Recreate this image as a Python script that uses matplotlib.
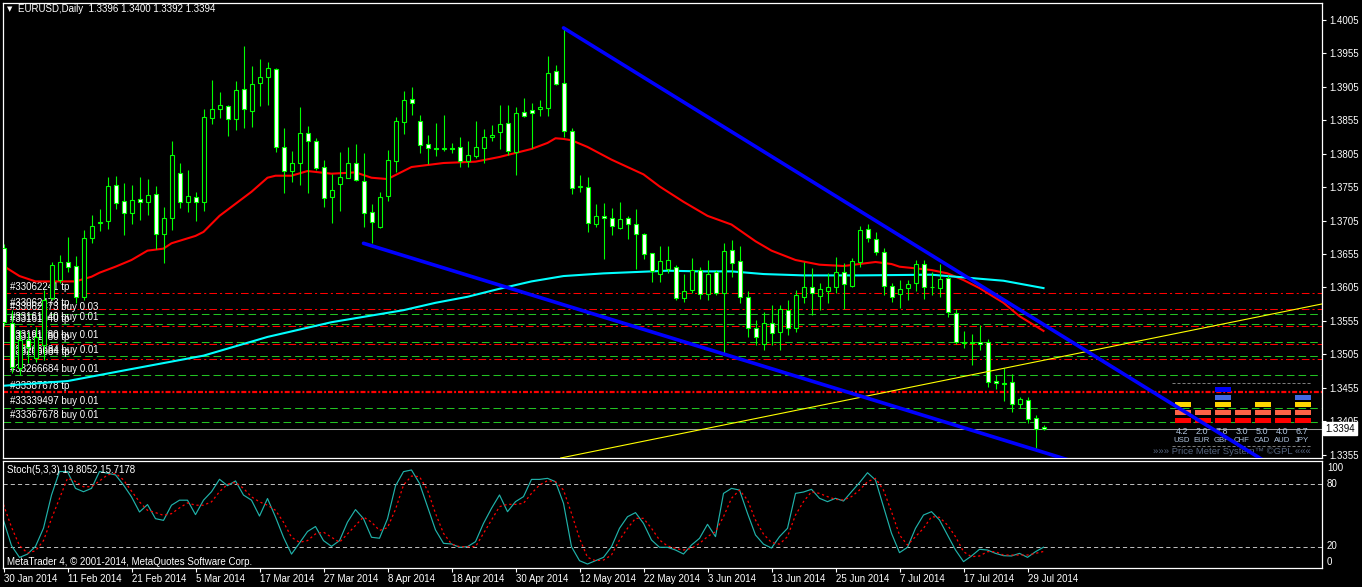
import matplotlib
matplotlib.use("Agg")
import matplotlib.pyplot as plt
import matplotlib.transforms as mtransforms
from matplotlib.patches import Rectangle
import numpy as np

plt.rcParams['font.family'] = ['Liberation Sans', 'DejaVu Sans']
plt.rcParams['lines.scale_dashes'] = False

# ------------------------------------------------------------------ data
title_text = "EURUSD,Daily  1.3396 1.3400 1.3392 1.3394"
stoch_title = "Stoch(5,3,3) 19.8052 15.7178"
footer_text = "MetaTrader 4, \u00a9 2001-2014, MetaQuotes Software Corp."

date_labels = ['30 Jan 2014', '11 Feb 2014', '21 Feb 2014', '5 Mar 2014', '17 Mar 2014',
               '27 Mar 2014', '8 Apr 2014', '18 Apr 2014', '30 Apr 2014', '12 May 2014',
               '22 May 2014', '3 Jun 2014', '13 Jun 2014', '25 Jun 2014', '7 Jul 2014',
               '17 Jul 2014', '29 Jul 2014']

opens = [1.3664, 1.3552, 1.3485, 1.3526, 1.3499, 1.3519, 1.3589, 1.3616, 1.3643, 1.3637,
         1.3591, 1.3679, 1.3701, 1.3704, 1.3758, 1.3734, 1.3716, 1.3737, 1.3733, 1.3745,
         1.3685, 1.3709, 1.3776, 1.3733, 1.3740, 1.3733, 1.3858, 1.3872, 1.3876, 1.3857,
         1.3902, 1.3869, 1.3911, 1.3920, 1.3932, 1.3815, 1.3779, 1.3791, 1.3836, 1.3824,
         1.3785, 1.3740, 1.3760, 1.3769, 1.3791, 1.3764, 1.3718, 1.3695, 1.3742, 1.3794,
         1.3852, 1.3887, 1.3854, 1.3819, 1.3813, 1.3812, 1.3813, 1.3815, 1.3794, 1.3801,
         1.3813, 1.3830, 1.3837, 1.3851, 1.3807, 1.3867, 1.3870, 1.3872, 1.3873, 1.3929,
         1.3911, 1.3839, 1.3755, 1.3755, 1.3700, 1.3712, 1.3709, 1.3694, 1.3709, 1.3700,
         1.3685, 1.3656, 1.3625, 1.3633, 1.3636, 1.3589, 1.3601, 1.3631, 1.3595, 1.3628,
         1.3597, 1.3661, 1.3645, 1.3591, 1.3544, 1.3520, 1.3552, 1.3538, 1.3571, 1.3544,
         1.3591, 1.3606, 1.3592, 1.3600, 1.3606, 1.3628, 1.3607, 1.3643, 1.3692, 1.3677,
         1.3658, 1.3607, 1.3595, 1.3604, 1.3612, 1.3640, 1.3606, 1.3604, 1.3619, 1.3567,
         1.3523, 1.3522, 1.3524, 1.3523, 1.3465, 1.3462, 1.3464, 1.3431, 1.3437, 1.3410,
         1.3396]
highs = [1.3670, 1.3571, 1.3541, 1.3538, 1.3546, 1.3601, 1.3643, 1.3653, 1.3680, 1.3652,
         1.3691, 1.3713, 1.3722, 1.3770, 1.3772, 1.3761, 1.3758, 1.3770, 1.3767, 1.3757,
         1.3725, 1.3824, 1.3791, 1.3781, 1.3748, 1.3872, 1.3915, 1.3897, 1.3878, 1.3914,
         1.3966, 1.3936, 1.3946, 1.3942, 1.3933, 1.3843, 1.3809, 1.3875, 1.3846, 1.3828,
         1.3796, 1.3775, 1.3807, 1.3815, 1.3819, 1.3806, 1.3730, 1.3748, 1.3810, 1.3860,
         1.3899, 1.3905, 1.3863, 1.3833, 1.3851, 1.3863, 1.3821, 1.3830, 1.3824, 1.3854,
         1.3842, 1.3848, 1.3878, 1.3878, 1.3875, 1.3888, 1.3881, 1.3885, 1.3951, 1.3938,
         1.3993, 1.3843, 1.3773, 1.3770, 1.3730, 1.3731, 1.3724, 1.3733, 1.3712, 1.3722,
         1.3686, 1.3657, 1.3667, 1.3667, 1.3638, 1.3625, 1.3649, 1.3636, 1.3646, 1.3631,
         1.3671, 1.3676, 1.3667, 1.3600, 1.3556, 1.3568, 1.3579, 1.3579, 1.3586, 1.3601,
         1.3643, 1.3634, 1.3612, 1.3627, 1.3650, 1.3642, 1.3649, 1.3697, 1.3700, 1.3688,
         1.3664, 1.3612, 1.3616, 1.3616, 1.3646, 1.3646, 1.3628, 1.3640, 1.3624, 1.3573,
         1.3540, 1.3535, 1.3549, 1.3528, 1.3474, 1.3485, 1.3476, 1.3441, 1.3441, 1.3414,
         1.3400]
lows = [1.3547, 1.3477, 1.3474, 1.3492, 1.3494, 1.3497, 1.3586, 1.3612, 1.3628, 1.3582,
        1.3586, 1.3671, 1.3689, 1.3692, 1.3722, 1.3683, 1.3700, 1.3706, 1.3713, 1.3662,
        1.3642, 1.3691, 1.3724, 1.3718, 1.3704, 1.3719, 1.3849, 1.3858, 1.3831, 1.3840,
        1.3843, 1.3845, 1.3876, 1.3878, 1.3807, 1.3746, 1.3763, 1.3758, 1.3746, 1.3781,
        1.3725, 1.3701, 1.3719, 1.3768, 1.3764, 1.3695, 1.3671, 1.3694, 1.3734, 1.3778,
        1.3834, 1.3863, 1.3806, 1.3790, 1.3801, 1.3809, 1.3806, 1.3785, 1.3785, 1.3798,
        1.3791, 1.3824, 1.3812, 1.3803, 1.3773, 1.3860, 1.3813, 1.3861, 1.3861, 1.3908,
        1.3830, 1.3745, 1.3748, 1.3688, 1.3695, 1.3647, 1.3683, 1.3693, 1.3677, 1.3633,
        1.3647, 1.3613, 1.3613, 1.3627, 1.3586, 1.3583, 1.3597, 1.3588, 1.3586, 1.3594,
        1.3507, 1.3621, 1.3582, 1.3531, 1.3519, 1.3511, 1.3519, 1.3511, 1.3534, 1.3538,
        1.3582, 1.3564, 1.3571, 1.3582, 1.3597, 1.3573, 1.3606, 1.3636, 1.3673, 1.3653,
        1.3594, 1.3583, 1.3574, 1.3586, 1.3600, 1.3588, 1.3594, 1.3591, 1.3561, 1.3520,
        1.3514, 1.3489, 1.3511, 1.3456, 1.3453, 1.3435, 1.3419, 1.3425, 1.3402, 1.3365,
        1.3392]
closes = [1.3553, 1.3486, 1.3526, 1.3516, 1.3531, 1.3586, 1.3639, 1.3643, 1.3636, 1.3591,
          1.3679, 1.3697, 1.3703, 1.3757, 1.3731, 1.3716, 1.3736, 1.3733, 1.3743, 1.3685,
          1.3709, 1.3803, 1.3733, 1.3742, 1.3733, 1.3860, 1.3872, 1.3878, 1.3857, 1.3900,
          1.3872, 1.3909, 1.3920, 1.3933, 1.3815, 1.3779, 1.3791, 1.3836, 1.3824, 1.3784,
          1.3739, 1.3751, 1.3770, 1.3791, 1.3766, 1.3716, 1.3703, 1.3740, 1.3796, 1.3854,
          1.3885, 1.3881, 1.3818, 1.3813, 1.3812, 1.3813, 1.3812, 1.3794, 1.3803, 1.3815,
          1.3830, 1.3833, 1.3849, 1.3809, 1.3866, 1.3861, 1.3866, 1.3874, 1.3926, 1.3909,
          1.3839, 1.3754, 1.3757, 1.3701, 1.3712, 1.3709, 1.3697, 1.3707, 1.3700, 1.3685,
          1.3655, 1.3630, 1.3645, 1.3646, 1.3589, 1.3600, 1.3631, 1.3595, 1.3625, 1.3597,
          1.3659, 1.3642, 1.3591, 1.3544, 1.3531, 1.3552, 1.3537, 1.3573, 1.3544, 1.3594,
          1.3606, 1.3597, 1.3603, 1.3606, 1.3628, 1.3610, 1.3645, 1.3691, 1.3679, 1.3658,
          1.3607, 1.3591, 1.3603, 1.3610, 1.3640, 1.3606, 1.3605, 1.3618, 1.3568, 1.3523,
          1.3522, 1.3523, 1.3521, 1.3464, 1.3462, 1.3461, 1.3431, 1.3438, 1.3408, 1.3393,
          1.3394]

# moving averages (read at sample bars)
red_ma_bars = [0, 2, 4, 9, 11, 12, 14, 16, 18, 20, 21, 24, 25, 27, 29, 31, 33, 34, 36, 38,
               41, 44, 46, 48, 50, 51, 55, 59, 62, 64, 66, 68, 69, 70, 71, 73, 76, 80, 82, 85,
               88, 91, 94, 96, 99, 102, 105, 107, 109, 111, 112, 116, 118, 120, 122, 125, 127, 130]
red_ma_vals = [1.3637, 1.3622, 1.3614, 1.3614, 1.3621, 1.3627, 1.3636, 1.3646, 1.3660, 1.3663,
               1.3671, 1.3682, 1.3688, 1.3712, 1.3730, 1.3748, 1.3769, 1.3772, 1.3772, 1.3779,
               1.3775, 1.3777, 1.3769, 1.3767, 1.3779, 1.3785, 1.3791, 1.3793, 1.3800, 1.3806,
               1.3812, 1.3821, 1.3828, 1.3827, 1.3825, 1.3815, 1.3796, 1.3774, 1.3756, 1.3733,
               1.3712, 1.3699, 1.3674, 1.3660, 1.3646, 1.3639, 1.3637, 1.3640, 1.3643, 1.3640,
               1.3636, 1.3631, 1.3626, 1.3616, 1.3604, 1.3582, 1.3562, 1.3540]
cyan_ma_bars = [0, 8, 16, 25, 33, 41, 50, 54, 58, 62, 66, 70, 75, 79, 83, 87, 91, 95, 100,
                107, 116, 120, 125, 130]
cyan_ma_vals = [1.3458, 1.3465, 1.3483, 1.3503, 1.3531, 1.3553, 1.3571, 1.3582, 1.3591, 1.3603,
                1.3614, 1.3622, 1.3626, 1.3628, 1.3630, 1.3629, 1.3629, 1.3625, 1.3623, 1.3623,
                1.3624, 1.3620, 1.3615, 1.3604]

# trend lines: two anchor points (bar, price)
trend_upper = [(70, 1.3993), (124, 1.3594)]
trend_lower = [(45, 1.3671), (116, 1.3410)]
trend_yellow = [(87, 1.3392), (137, 1.3513)]

# order lines
tp_levels = [1.3596, 1.3572, 1.3548, 1.3521, 1.3498]
tp_labels = ['#33062241 tp', '#33062473 tp', '#33161540 tp', '#33191780 tp', '#33266684 tp']
tp_main_level = 1.3448
tp_main_label = '#33387678 tp'
buy_levels = [1.3566, 1.3551, 1.3524, 1.3502, 1.3474, 1.3425, 1.3404]
buy_labels = ['#33062473 buy 0.03', '#33161540 buy 0.01', '#33191780 buy 0.01',
              '#33266684 buy 0.01', '#33266684 buy 0.01', '#33339497 buy 0.01',
              '#33367678 buy 0.01']

# stochastic
stoch_main = [45.5, 21.3, 10, 13.2, 20.6, 38, 69.7, 92.2, 92.2, 76.1,
              72.9, 76.1, 92.2, 90.6, 89, 79.3, 68, 53.5, 60.6, 47.1,
              45.5, 60, 64.8, 64.8, 51, 64.8, 72.9, 84.8, 78.7, 83.2,
              69.7, 64.8, 49.6, 66.4, 48.7, 29.3, 13.2, 23.8, 34.8, 39.6,
              26.1, 20.6, 26.1, 43.8, 55.8, 47.1, 29.3, 28.4, 47, 78.5,
              92.1, 93.7, 80.9, 58.6, 36.3, 23.5, 22.9, 19.7, 20.3, 25.1,
              42.6, 57, 69.8, 53.8, 63.4, 68.2, 84.7, 84.7, 85.7, 82.5,
              61.8, 20.3, 6.9, 3.7, 6.9, 10.1, 20.3, 37.9, 49, 52.9,
              42.6, 26.7, 19.7, 19.7, 17.1, 13.3, 21.9, 28.3, 41.7, 29.9,
              71.3, 76.1, 74.5, 52.2, 31.5, 22.7, 19, 29.9, 37.9, 71.3,
              72.6, 75.2, 66.6, 63.4, 66.6, 64, 72.9, 81.6, 91.1, 84.1,
              58.6, 33.1, 14.6, 19.7, 37.9, 50.6, 53.8, 45.8, 31.5, 17.1,
              6, 11.4, 17.8, 17.1, 13.9, 11.7, 11.4, 13.9, 10.1, 15.5,
              19.8]
stoch_signal = [60.6, 39, 21.3, 14.2, 16.4, 26.1, 47.1, 66.4, 85.8, 82.6,
                77.7, 77.7, 83.2, 89, 90.6, 84.2, 73.5, 63.2, 55.1, 52.9,
                50.3, 51.9, 57.4, 62.2, 60, 60, 63.2, 72.9, 80, 81.9,
                76.1, 68, 63.2, 60, 55.1, 43.8, 29.3, 24.5, 26.1, 32.5,
                34.2, 29.3, 24.5, 32.5, 40.6, 48.7, 43.8, 35.8, 38.5, 56,
                79.3, 87.9, 87.3, 74.5, 52.2, 33.1, 22.9, 20.3, 20.3, 20.3,
                33.1, 45.8, 58.6, 60.8, 60.8, 61.8, 71.3, 79.3, 83.5, 82.5,
                74.5, 52.2, 28.3, 10.1, 6.9, 7.5, 12.3, 26.7, 37.9, 47.4,
                47.4, 37.9, 26.7, 21, 18.7, 17.1, 18.7, 23.5, 29.9, 34.7,
                49, 66.6, 74.5, 65, 45.8, 32.3, 24.3, 22.7, 29.9, 50.6,
                63.4, 72.9, 71.3, 68.2, 65.6, 65, 68.2, 74.5, 82.5, 85.7,
                74.5, 53.8, 31.5, 21.9, 29.9, 37.9, 49, 48.4, 41, 29.9,
                15.5, 10.7, 11.4, 15.5, 15.5, 12.3, 12.3, 12.3, 12.3, 13.9,
                15.7]
stoch_levels = [80, 20]

# price meter widget
pm_currencies = ['USD', 'EUR', 'GBP', 'CHF', 'CAD', 'AUD', 'JPY']
pm_values = [4.2, 2.0, 7.8, 3.0, 5.0, 4.0, 6.7]
pm_blocks = [3, 2, 5, 2, 3, 2, 4]
pm_colors = ['#FF0000', '#FF6347', '#FFD700', '#4169E1', '#0000FF']
pm_caption = "\u00bb\u00bb\u00bb Price Meter System\u2122 \u00a9GPL \u00ab\u00ab\u00ab"

# ------------------------------------------------------------------ figure
W, H, DPI = 1362, 587, 100
LIME = '#00FF00'
fig = plt.figure(figsize=(W / DPI, H / DPI), dpi=DPI, facecolor='black')


def frac_box(x0, y0, x1, y1):
    return [x0 / W, 1 - y1 / H, (x1 - x0) / W, (y1 - y0) / H]


ax = fig.add_axes(frac_box(3, 3, 1322, 458))
ax2 = fig.add_axes(frac_box(3, 461, 1322, 568))
for a in (ax, ax2):
    a.set_facecolor('black')
    for s in a.spines.values():
        s.set_color('white')
        s.set_linewidth(0.9)

pix = mtransforms.Affine2D().scale(1.0 / W, -1.0 / H).translate(0, 1) + fig.transFigure

o = np.array(opens); hi = np.array(highs); lo = np.array(lows); c = np.array(closes)
x = np.arange(len(o))

# order lines
for lv in tp_levels:
    ax.axhline(lv, color='#FF0000', lw=0.75, ls=(0, (5.5, 2.2, 1.5, 2.2)), zorder=1)
ax.axhline(tp_main_level, color='#FF0000', lw=1.6, ls=(0, (3.6, 1.4, 1.4, 1.4)), zorder=1)
for lv in buy_levels:
    ax.axhline(lv, color='#22C222', lw=0.75, ls=(0, (5.5, 2.9)), zorder=1)
ax.axhline(c[-1], color='#A0A0A0', lw=0.75, zorder=1)

lab_tr = mtransforms.offset_copy(mtransforms.blended_transform_factory(pix, ax.transData),
                                 fig=fig, y=1.5, units='dots')
for lv, s in list(zip(buy_levels, buy_labels)) + list(zip(tp_levels, tp_labels)) + \
        [(tp_main_level, tp_main_label)]:
    ax.text(10, lv, s, transform=lab_tr, color='white', fontsize=7, va='bottom', ha='left',
            zorder=1.5)

# moving averages
ax.plot(red_ma_bars, red_ma_vals, color='#FF0000', lw=1.5, zorder=2)
ax.plot(cyan_ma_bars, cyan_ma_vals, color='#00FFFF', lw=1.5, zorder=2)

# candles
ax.vlines(x, lo, hi, color=LIME, lw=0.8, zorder=2.5)
bull = c >= o
bb = np.minimum(o, c)
bh = np.abs(c - o)
ax.bar(x[bull], bh[bull], bottom=bb[bull], width=0.5, color='black', edgecolor=LIME,
       linewidth=0.8, zorder=3)
ax.bar(x[~bull], bh[~bull], bottom=bb[~bull], width=0.5, color='white', edgecolor=LIME,
       linewidth=0.8, zorder=3)

# trend lines
ax.axline(trend_yellow[0], trend_yellow[1], color='#FFFF00', lw=0.8, zorder=3.5)
for (p0, p1) in (trend_upper, trend_lower):
    slope = (p1[1] - p0[1]) / (p1[0] - p0[0])
    xe = 260
    ax.plot([p0[0], xe], [p0[1], p0[1] + slope * (xe - p0[0])], color='#0000FF', lw=2.6,
            solid_capstyle='round', zorder=4)

# price meter widget (pixel layout)
for yy in (383, 446):
    ax.plot([1172, 1312], [yy, yy], transform=pix, color='#808080', lw=0.7,
            ls=(0, (2.2, 1.4)), zorder=3.6)
for k, (cur, val, nb) in enumerate(zip(pm_currencies, pm_values, pm_blocks)):
    cx = 1183 + 20 * k
    for lvl in range(nb):
        ax.add_patch(Rectangle((cx - 8, 417.7 - 7.7 * lvl), 16, 5, transform=pix,
                               facecolor=pm_colors[lvl], edgecolor='none', zorder=3.6))
    ax.text(cx - 1, 432, f'{val:.1f}', transform=pix, color='#B0C4DE', fontsize=6.5,
            ha='center', va='center', zorder=3.7)
    ax.text(cx - 1, 441, cur, transform=pix, color='#B0C4DE', fontsize=5.6,
            ha='center', va='center', zorder=3.7)
ax.text(1232, 451, pm_caption, transform=pix, color='#56657F', fontsize=6.8,
        ha='center', va='center', zorder=3.7)

# axes limits / ticks (main)
ax.set_xlim(-0.0625, 164.8125)
ax.set_ylim(1.33500, 1.40302)
ax.set_xticks([])
ax.yaxis.tick_right()
pticks = np.round(np.arange(1.3355, 1.40051, 0.005), 4)
ax.set_yticks(pticks)
ax.set_yticklabels([f'{p:.4f}' for p in pticks])
ax.tick_params(axis='y', colors='white', labelsize=7, length=3, width=0.8, pad=2)

tag_tr = mtransforms.blended_transform_factory(ax.transAxes, ax.transData)
ax.text(1.0025, c[-1], f'{c[-1]:.4f}', transform=tag_tr, color='black', fontsize=7,
        ha='left', va='center', clip_on=False, zorder=10,
        bbox=dict(facecolor='white', edgecolor='white', pad=1.3))

# stochastic panel
for lv in stoch_levels:
    ax2.axhline(lv, color='#C0C0C0', lw=0.7, ls=(0, (3, 2.2)), zorder=1)
ax2.plot(x, stoch_main, color='#20B2AA', lw=0.85, zorder=2)
ax2.plot(x, stoch_signal, color='#FF0000', lw=0.9, ls=(0, (1.6, 2.0)), zorder=2)
ax2.set_xlim(-0.0625, 164.8125)
ax2.set_ylim(-0.1, 102.3)
ax2.set_yticks([])
ax2.set_xticks(np.arange(0, len(o), 8)[:len(date_labels)])
ax2.set_xticklabels(date_labels, ha='left')
ax2.tick_params(axis='x', colors='white', labelsize=7, length=3, width=0.8, pad=1)

# overlay texts
ov = fig.add_axes([0, 0, 1, 1])
ov.set_xlim(0, W)
ov.set_ylim(H, 0)
ov.axis('off')
ov.patch.set_alpha(0)
ov.text(9.5, 9.5, '\u25bc', color='white', fontsize=5, ha='center', va='center',
        family='DejaVu Sans')
ov.text(18, 9.5, title_text, color='white', fontsize=7, ha='left', va='center')
ov.text(7, 470, stoch_title, color='white', fontsize=7, ha='left', va='center')
ov.text(7, 562, footer_text, color='white', fontsize=7, ha='left', va='center')
for val, yy in ((100, 468), (80, 484.3), (20, 546.3), (0, 562.3)):
    ov.text(1327, yy, str(val), color='white', fontsize=7, ha='left', va='center')

fig.savefig('out.png', dpi=DPI, facecolor='black')
